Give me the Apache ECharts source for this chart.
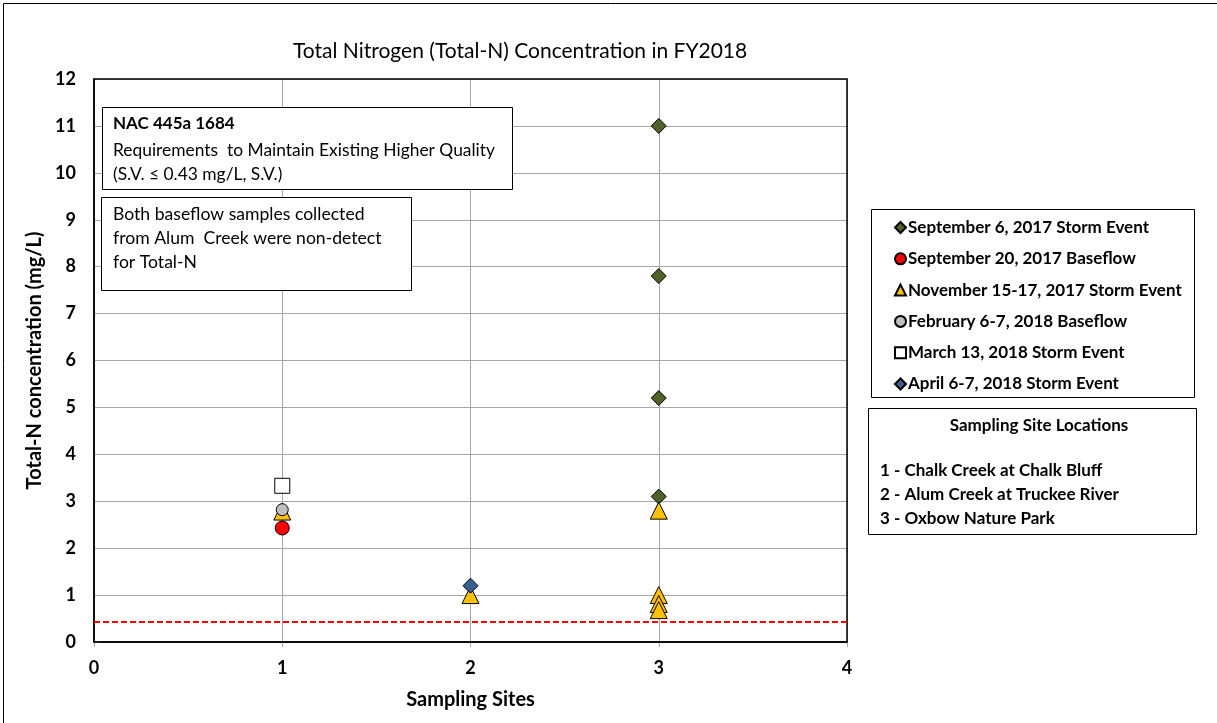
<!DOCTYPE html>
<html>
<head>
<meta charset="utf-8">
<script src="https://cdn.jsdelivr.net/npm/echarts@6/dist/echarts.min.js"></script>
<style>
html,body{margin:0;padding:0;background:#fff;}
#c{width:1217px;height:723px;}
</style>
</head>
<body>
<div id="c"></div>
<script>
// ---- data ----
const xTicks = [0, 1, 2, 3, 4];
const yTicks = [0,1,2,3,4,5,6,7,8,9,10,11,12];
const seriesNames = [
  'September 6, 2017 Storm Event',
  'September 20, 2017 Baseflow',
  'November 15-17, 2017 Storm Event',
  'February 6-7, 2018 Baseflow',
  'March 13, 2018 Storm Event',
  'April 6-7, 2018 Storm Event'
];
const sep6Storm = [[3, 11.0], [3, 7.8], [3, 5.2], [3, 3.1]];
const sep20Base = [[1, 2.43]];
const nov15Storm = [[1, 2.78], [2, 1.0], [3, 2.8], [3, 1.0], [3, 0.81], [3, 0.68]];
const feb6Base = [[1, 2.82]];
const mar13Storm = [[1, 3.33]];
const apr6Storm = [[2, 1.2]];
const standardValue = 0.43;
const siteLocations = [
  '1 - Chalk Creek at Chalk Bluff',
  '2 - Alum Creek at Truckee River',
  '3 - Oxbow Nature Park'
];

const FONT = 'Lato, "Open Sans", sans-serif';
const chart = echarts.init(document.getElementById('c'), null, {renderer: 'canvas'});

function sc(name, data, symbol, size, color) {
  return {
    name: name, type: 'scatter', data: data, symbol: symbol, symbolSize: size,
    itemStyle: {color: color, borderColor: '#000', borderWidth: 1, opacity: 1},
    emphasis: {disabled: true}
  };
}

const series = [
  sc(seriesNames[0], sep6Storm, 'diamond', 15, '#4f6228'),
  sc(seriesNames[1], sep20Base, 'circle', 14, '#ff0000'),
  sc(seriesNames[2], nov15Storm, 'triangle', 17, '#ffc000'),
  sc(seriesNames[3], feb6Base, 'circle', 12, '#bfbfbf'),
  sc(seriesNames[4], mar13Storm, 'rect', 15, '#ffffff'),
  sc(seriesNames[5], apr6Storm, 'diamond', 15, '#376092')
];
series.push({
  name: 'SV', type: 'line', data: [], silent: true,
  markLine: {
    silent: true, symbol: 'none', label: {show: false},
    lineStyle: {color: '#ff0000', type: [6, 3], width: 2},
    data: [{yAxis: standardValue}]
  },
  z: 1
});

const option = {
  animation: false,
  backgroundColor: '#ffffff',
  title: {
    text: 'Total Nitrogen (Total-N) Concentration in FY2018',
    left: 288, top: 36,
    textStyle: {fontFamily: FONT, fontSize: 21, fontWeight: 'normal', color: '#000'}
  },
  grid: {left: 94, right: 370, top: 79, bottom: 81, containLabel: false},
  xAxis: {
    type: 'value', min: xTicks[0], max: xTicks[xTicks.length - 1], interval: 1,
    name: 'Sampling Sites', nameLocation: 'middle', nameGap: 48,
    nameTextStyle: {fontFamily: FONT, fontSize: 20, fontWeight: 'bold', color: '#000'},
    axisLine: {show: true, onZero: false, lineStyle: {color: '#000', width: 1.5}},
    axisTick: {show: true, length: 5, lineStyle: {color: '#a6a6a6'}},
    axisLabel: {fontFamily: FONT, fontSize: 18, fontWeight: 'bold', color: '#000', margin: 17},
    splitLine: {show: true, lineStyle: {color: '#a6a6a6', width: 1}}
  },
  yAxis: {
    type: 'value', min: yTicks[0], max: yTicks[yTicks.length - 1], interval: 1,
    name: 'Total-N concentration (mg/L)', nameLocation: 'middle', nameGap: 46,
    nameTextStyle: {fontFamily: FONT, fontSize: 20, fontWeight: 'bold', color: '#000'},
    axisLine: {show: true, lineStyle: {color: '#000', width: 1.5}},
    axisTick: {show: true, inside: true, length: 5, lineStyle: {color: '#a6a6a6'}},
    axisLabel: {fontFamily: FONT, fontSize: 18, fontWeight: 'bold', color: '#000', margin: 18},
    splitLine: {show: true, lineStyle: {color: '#a6a6a6', width: 1}}
  },
  legend: {
    data: seriesNames,
    orient: 'vertical', left: 889, top: 214,
    itemWidth: 11, itemHeight: 11, itemGap: 14.3,
    textStyle: {fontFamily: FONT, fontSize: 17, fontWeight: 'bold', color: '#000', padding: [0, 0, 0, -3]},
    selectedMode: false
  },
  graphic: [
    {type: 'rect', left: 1, top: 1, shape: {width: 1214, height: 720}, style: {fill: null, stroke: '#000', lineWidth: 1}, silent: true, z: 0},
    {type: 'rect', x: 94, y: 79, shape: {x: 0, y: 0, width: 753, height: 563}, style: {fill: null, stroke: '#000', lineWidth: 1.5}, silent: true, z: 3},
    {type: 'rect', left: 871, top: 209, shape: {width: 323, height: 188}, style: {fill: '#fff', stroke: '#000', lineWidth: 1}, silent: true, z: -1},
    {type: 'rect', left: 868, top: 408, shape: {width: 328, height: 126}, style: {fill: '#fff', stroke: '#000', lineWidth: 1}, silent: true, z: 0},
    {type: 'text', x: 1039, y: 426, style: {text: 'Sampling Site Locations', font: 'bold 17px ' + FONT, fill: '#000', textAlign: 'center', textVerticalAlign: 'middle'}, z: 10},
    {type: 'text', left: 880, top: 459, style: {text: siteLocations.join('\n'), font: 'bold 17px ' + FONT, lineHeight: 24, fill: '#000'}, z: 10},
    {type: 'rect', left: 102, top: 107, shape: {width: 410, height: 82}, style: {fill: '#fff', stroke: '#000', lineWidth: 1}, z: 20},
    {type: 'text', left: 113, top: 115, style: {text: 'NAC 445a 1684', font: 'bold 17px ' + FONT, fill: '#000'}, z: 21},
    {type: 'text', left: 113, top: 138, style: {text: 'Requirements  to Maintain Existing Higher Quality\n(S.V. ≤ 0.43 mg/L, S.V.)', font: '17.4px ' + FONT, lineHeight: 24.5, fill: '#000'}, z: 21},
    {type: 'rect', left: 101, top: 197, shape: {width: 310, height: 93}, style: {fill: '#fff', stroke: '#000', lineWidth: 1}, z: 20},
    {type: 'text', left: 113, top: 202, style: {text: 'Both baseflow samples collected\nfrom Alum  Creek were non-detect\nfor Total-N', font: '17.6px ' + FONT, lineHeight: 24, fill: '#000'}, z: 21}
  ],
  series: series
};
chart.setOption(option);
</script>
</body>
</html>
